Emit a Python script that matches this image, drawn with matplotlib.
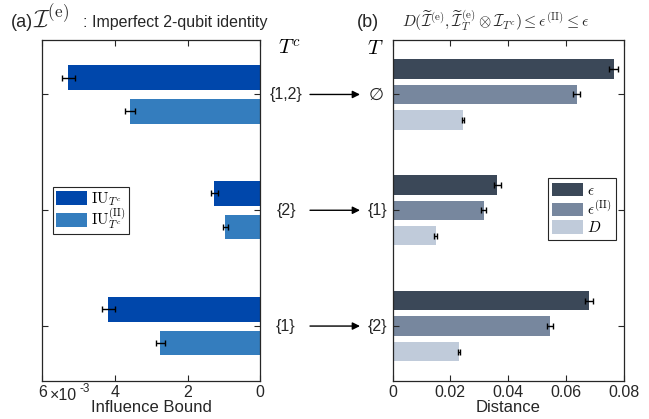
import matplotlib
matplotlib.use("Agg")
import matplotlib.pyplot as plt
import matplotlib.transforms as mtransforms
import numpy as np

plt.rcParams['font.family'] = ['Liberation Sans', 'DejaVu Sans']
plt.rcParams['mathtext.fontset'] = 'cm'

# ---------------- data ----------------
groups_left = ['{1,2}', '{2}', '{1}']            # T^c
groups_right = ['\u2205', '{1}', '{2}']          # T
iu = [5.29e-3, 1.27e-3, 4.19e-3]
iu_err = [0.18e-3, 0.10e-3, 0.18e-3]
iu2 = [3.59e-3, 0.96e-3, 2.75e-3]
iu2_err = [0.14e-3, 0.08e-3, 0.12e-3]
eps = [0.0766, 0.0363, 0.0680]
eps_err = [0.0016, 0.0013, 0.0013]
eps2 = [0.0638, 0.0315, 0.0544]
eps2_err = [0.0012, 0.0010, 0.0010]
dist = [0.0244, 0.0149, 0.0229]
dist_err = [0.0004, 0.0004, 0.0004]
left_xticks = [6e-3, 4e-3, 2e-3, 0]
left_xticklabels = ['6', '4', '2', '0']
right_xticks = [0, 0.02, 0.04, 0.06, 0.08]
right_xticklabels = ['0', '0.02', '0.04', '0.06', '0.08']

c_iu = '#0047AB'
c_iu2 = '#347DBE'
c_eps = '#3B4858'
c_eps2 = '#77879E'
c_dist = '#C0CBDA'
spine_c = '#262626'
txt_c = '#262626'

W, H = 649, 419
fig = plt.figure(figsize=(W / 100, H / 100), dpi=100)

def px(x0, y0, x1, y1):
    return [x0 / W, 1 - y1 / H, (x1 - x0) / W, (y1 - y0) / H]

ax1 = fig.add_axes(px(42.3, 40.5, 260.3, 381.3))
ax2 = fig.add_axes(px(392.5, 40.5, 623.7, 381.3))

ypos = np.array([3, 2, 1])

# left panel
hL = 0.213
offL = 0.145
ekw = dict(ecolor='black', elinewidth=1.0, capthick=1.0)
ax1.barh(ypos + offL, iu, height=hL, color=c_iu, label=r'$\mathrm{IU}_{T^c}$')
ax1.barh(ypos - offL, iu2, height=hL, color=c_iu2, label=r'$\mathrm{IU}_{T^c}^{(\mathrm{II})}$')
ax1.errorbar(iu, ypos + offL, xerr=iu_err, fmt='none', capsize=2.5, **ekw)
ax1.errorbar(iu2, ypos - offL, xerr=iu2_err, fmt='none', capsize=2.5, **ekw)
ax1.set_xlim(6e-3, 0)
ax1.set_ylim(0.523, 3.466)
ax1.set_xticks(left_xticks)
ax1.set_xticklabels(left_xticklabels, fontsize=11.5)
ax1.set_yticks(ypos)
ax1.set_yticklabels([])
ax1.set_xlabel('Influence Bound', fontsize=12, labelpad=0, color=txt_c)

# right panel
hR = 0.168
offR = 0.22
ax2.barh(ypos + offR, eps, height=hR, color=c_eps, label=r'$\epsilon$')
ax2.barh(ypos, eps2, height=hR, color=c_eps2, label=r'$\epsilon^{(\mathrm{II})}$')
ax2.barh(ypos - offR, dist, height=hR, color=c_dist, label=r'$D$')
ax2.errorbar(eps, ypos + offR, xerr=eps_err, fmt='none', capsize=2.2, **ekw)
ax2.errorbar(eps2, ypos, xerr=eps2_err, fmt='none', capsize=2.2, **ekw)
ax2.errorbar(dist, ypos - offR, xerr=dist_err, fmt='none', capsize=2.2, **ekw)
ax2.set_xlim(0, 0.08)
ax2.set_ylim(0.523, 3.466)
ax2.set_xticks(right_xticks)
ax2.set_xticklabels(right_xticklabels, fontsize=11.5)
ax2.set_yticks(ypos)
ax2.set_yticklabels([])
ax2.set_xlabel('Distance', fontsize=12, labelpad=0, color=txt_c)

for ax in (ax1, ax2):
    ax.tick_params(direction='in', top=True, right=True, length=4, width=0.8,
                   color=spine_c, pad=3, labelcolor=txt_c)
    for s in ax.spines.values():
        s.set_color(spine_c)
        s.set_linewidth(0.9)

# x10^-3 multiplier next to 6
fig.text(49.5 / W, 1 - 400 / H, '\u00d710', fontsize=11.5, va='baseline', ha='left', color=txt_c)
fig.text(79 / W, 1 - 392 / H, '-3', fontsize=8.5, va='baseline', ha='left', color=txt_c)

# legends
lkw = dict(fontsize=11, handlelength=2.0, handleheight=1.0, handletextpad=0.3,
           fancybox=False, framealpha=1, edgecolor=spine_c, borderaxespad=0)
leg1 = ax1.legend(loc='upper left', bbox_to_anchor=(0.049, 0.570),
                  borderpad=0.2, labelspacing=-0.1, **lkw)
leg1.get_frame().set_linewidth(0.8)
leg2 = ax2.legend(loc='upper right', bbox_to_anchor=(0.967, 0.596),
                  borderpad=0.3, labelspacing=0.15, **lkw)
leg2.get_frame().set_linewidth(0.8)

# category labels and arrows in the middle
tr1 = mtransforms.blended_transform_factory(fig.transFigure, ax1.transData)
for y, lab_l, lab_r in zip(ypos, groups_left, groups_right):
    ax1.text(286 / W, y, lab_l, transform=tr1, ha='center', va='center',
             fontsize=11.5, color=txt_c, clip_on=False)
    if lab_r.startswith('{'):
        ax1.text(377 / W, y, lab_r, transform=tr1, ha='center', va='center',
                 fontsize=11.5, color=txt_c, clip_on=False)
    else:
        ax1.text(376 / W, y, lab_r, transform=tr1, ha='center', va='center',
                 fontsize=12.5, color=txt_c, clip_on=False, family='DejaVu Sans',
                 style='italic')
    ax1.annotate('', xy=(360 / W, y), xytext=(310 / W, y), xycoords=tr1, textcoords=tr1,
                 arrowprops=dict(arrowstyle='-|>', color='black', lw=1.0,
                                 mutation_scale=11, shrinkA=0, shrinkB=0),
                 annotation_clip=False)

# column headers
fig.text(278 / W, 1 - 48 / H, r'$T^c$', fontsize=15, va='center', ha='left')
fig.text(367 / W, 1 - 48 / H, r'$T$', fontsize=15, va='center', ha='left')

# titles
fig.text(11 / W, 1 - 27 / H, '(a)', fontsize=13, va='baseline', ha='left', color=txt_c)
fig.text(33 / W, 1 - 27 / H, r'$\mathcal{I}^{(\mathrm{e})}$', fontsize=17.5,
         va='baseline', ha='left', color=txt_c)
fig.text(83 / W, 1 - 27 / H, ': Imperfect 2-qubit identity',
         fontsize=11.5, va='baseline', ha='left', color=txt_c)
fig.text(357 / W, 1 - 27 / H, '(b)', fontsize=13, va='baseline', ha='left', color=txt_c)
fig.text(402 / W, 1 - 27 / H,
         r'$D(\widetilde{\mathcal{I}}^{(\mathrm{e})}, \widetilde{\mathcal{I}}_T^{(\mathrm{e})} \otimes \mathcal{I}_{T^c}) \leq \epsilon^{(\mathrm{II})} \leq \epsilon$',
         fontsize=11.3, va='baseline', ha='left', color=txt_c)

fig.savefig('out.png', dpi=100)
